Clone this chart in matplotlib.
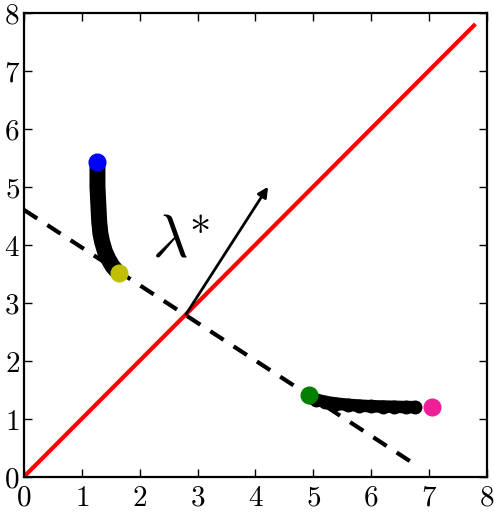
import numpy as np
import matplotlib
matplotlib.use("Agg")
import matplotlib.pyplot as plt
from matplotlib.ticker import FuncFormatter

plt.rcParams['mathtext.fontset'] = 'cm'

# diagonal (red) and dashed constraint line endpoints
diag_x = [0, 7.78]
diag_y = [0, 7.78]
dash_x = [0, 6.67]
dash_y = [4.6, 0.27]

# upper trajectory of points
upper_x = [1.27, 1.27, 1.27, 1.28, 1.29, 1.30, 1.32, 1.35, 1.40, 1.46, 1.53, 1.60]
upper_y = [5.38, 5.20, 5.00, 4.80, 4.60, 4.40, 4.20, 4.05, 3.88, 3.75, 3.63, 3.55]

# lower trajectory of points
lower_x = [4.95, 5.05, 5.20, 5.40, 5.60, 5.80, 6.00, 6.20, 6.40, 6.60, 6.76]
lower_y = [1.38, 1.33, 1.29, 1.26, 1.24, 1.225, 1.215, 1.21, 1.205, 1.20, 1.20]

# coloured end points
end_x = [1.27, 1.65, 4.93, 7.06]
end_y = [5.42, 3.51, 1.40, 1.20]
end_colors = ['#0000ff', '#bfbf00', '#008000', '#f01e96']

# arrow and label
arrow_start = (2.8, 2.8)
arrow_end = (4.22, 5.0)
label_pos = (2.22, 3.55)

fig = plt.figure(figsize=(4.94, 5.15), dpi=100)
ax = fig.add_axes([0.0486, 0.0744, 0.9366, 0.9009])

ax.plot(diag_x, diag_y, color='red', lw=3, zorder=2)
ax.plot(dash_x, dash_y, color='black', lw=3, dashes=(3.8, 2.87), zorder=2)

ax.plot(upper_x, upper_y, color='black', lw=11.5, solid_capstyle='round', zorder=3)
ax.plot(lower_x, lower_y, color='black', lw=9, solid_capstyle='round', zorder=3)
ax.plot(lower_x, lower_y, 'o', color='black', ms=9, zorder=3)

for x, y, c in zip(end_x, end_y, end_colors):
    ax.plot(x, y, 'o', color=c, ms=12, mec=c, zorder=4)

ax.annotate('', xy=arrow_end, xytext=arrow_start,
            arrowprops=dict(arrowstyle='-|>', color='black', lw=2,
                            mutation_scale=15, shrinkA=0, shrinkB=0),
            zorder=5)
ax.text(label_pos[0], label_pos[1], r'$\lambda^{\!\!*}$', fontsize=44,
        ha='left', va='bottom')

ax.set_xlim(0, 8)
ax.set_ylim(0, 8)
ax.set_xticks(range(9))
ax.set_yticks(range(9))
fmt = FuncFormatter(lambda v, p: r'$%d$' % v)
ax.xaxis.set_major_formatter(fmt)
ax.yaxis.set_major_formatter(fmt)
ax.tick_params(direction='in', length=6, width=1, top=True, right=True,
               labelsize=21)
ax.tick_params(axis='x', pad=5)
ax.tick_params(axis='y', pad=3)
for s in ax.spines.values():
    s.set_linewidth(1.6)

plt.savefig("out.png", dpi=100)
plt.close()
